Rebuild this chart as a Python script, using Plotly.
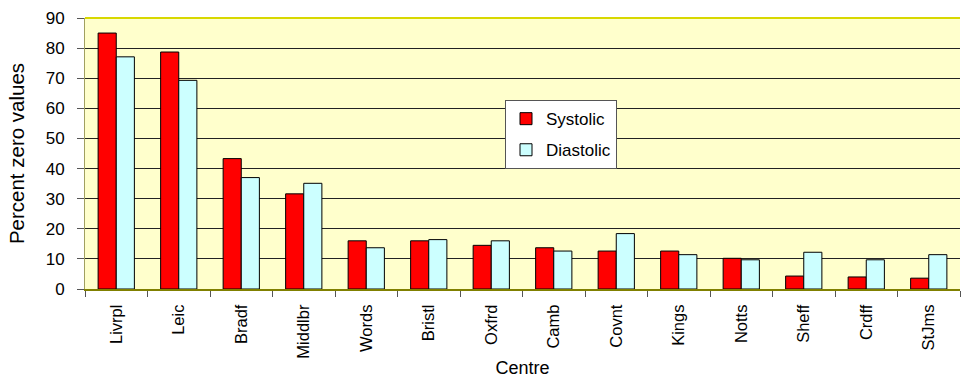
import plotly.graph_objects as go

centres = ["Livrpl", "Leic", "Bradf", "Middlbr", "Words", "Bristl", "Oxfrd",
           "Camb", "Covnt", "Kings", "Notts", "Sheff", "Crdff", "StJms"]
systolic = [85.0, 78.7, 43.3, 31.6, 16.0, 16.0, 14.5, 13.7, 12.6, 12.6, 10.2, 4.3, 4.0, 3.6]
diastolic = [77.1, 69.3, 37.0, 35.1, 13.7, 16.4, 16.0, 12.6, 18.4, 11.4, 9.7, 12.2, 9.7, 11.4]

FONT = "Liberation Sans, Arial, sans-serif"

fig = go.Figure()
fig.add_trace(go.Bar(
    x=centres, y=systolic, name="Systolic", legendgroup="s",
    marker=dict(color="#FF0000", line=dict(color="#000000", width=1)),
))
fig.add_trace(go.Bar(
    x=centres, y=diastolic, name="Diastolic", legendgroup="d",
    marker=dict(color="#CCFFFF", line=dict(color="#000000", width=1)),
))

fig.update_layout(
    width=961, height=381,
    margin=dict(l=85, r=1, t=18, b=92),
    paper_bgcolor="#FFFFFF",
    plot_bgcolor="#FFFFCC",
    barmode="group",
    bargap=0.42,
    bargroupgap=0,
    font=dict(family=FONT, size=16, color="#000000"),
    legend=dict(
        x=0.48, y=0.697, xanchor="left", yanchor="top",
        bgcolor="#FFFFFF", bordercolor="#555555", borderwidth=1,
        font=dict(family=FONT, size=17),
        tracegroupgap=6,
        itemwidth=30,
    ),
    showlegend=True,
)

fig.update_xaxes(
    type="category",
    tickangle=-90,
    ticks="outside", ticklen=6, tickcolor="#555555",
    tickson="boundaries",
    ticklabelstandoff=7,
    showline=True, linecolor="#808000", linewidth=2,
    showgrid=False,
    tickfont=dict(family=FONT, size=16.5),
    title=dict(text="Centre", font=dict(family=FONT, size=18), standoff=4),
)
fig.update_yaxes(
    range=[0, 90], dtick=10,
    ticks="outside", ticklen=7, tickcolor="#555555",
    ticklabelstandoff=9,
    showline=True, linecolor="#A0A060", linewidth=1,
    showgrid=True, gridcolor="#222222", gridwidth=1,
    zeroline=False,
    tickfont=dict(family=FONT, size=17),
    title=dict(text="Percent zero values", font=dict(family=FONT, size=20.5), standoff=15),
)

# yellow border along the top edge of the plotting area
fig.add_shape(type="line", xref="paper", yref="paper", x0=0, x1=1, y0=1, y1=1,
              line=dict(color="#D8D800", width=2), layer="above")

fig.write_html("out.html")
